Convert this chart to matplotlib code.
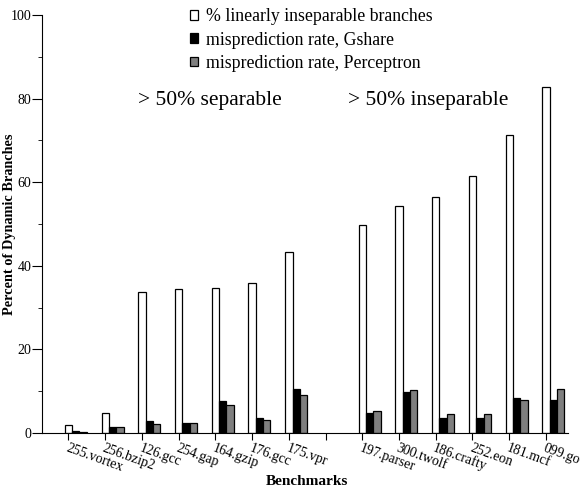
import matplotlib
matplotlib.use('Agg')
from matplotlib import pyplot as plt
import numpy as np

plt.rcParams['font.family'] = ['Liberation Serif', 'DejaVu Serif']

benchmarks = ['255.vortex', '256.bzip2', '126.gcc', '254.gap', '164.gzip', '176.gcc', '175.vpr',
              '197.parser', '300.twolf', '186.crafty', '252.eon', '181.mcf', '099.go']
inseparable = [1.9, 4.8, 33.8, 34.4, 34.6, 36.0, 43.4, 49.8, 54.4, 56.5, 61.5, 71.3, 82.8]
gshare = [0.5, 1.4, 2.9, 2.4, 7.6, 3.5, 10.5, 4.9, 9.9, 3.5, 3.7, 8.4, 8.0]
perceptron = [0.3, 1.4, 2.2, 2.3, 6.7, 3.2, 9.1, 5.2, 10.4, 4.5, 4.5, 7.8, 10.6]

# slot 7 is left empty between the two groups
pos = np.array(list(range(7)) + list(range(8, 14)))
w = 0.2

fig = plt.figure(figsize=(5.8, 4.93), dpi=100)
ax = fig.add_axes([42 / 580, 60 / 493, 526 / 580, 418 / 493])

ax.bar(pos, inseparable, w, color='white', edgecolor='black', linewidth=0.9,
       label='% linearly inseparable branches')
ax.bar(pos + w, gshare, w, color='black', edgecolor='black', linewidth=0.9,
       label='misprediction rate, Gshare')
ax.bar(pos + 2 * w, perceptron, w, color='#7f7f7f', edgecolor='black', linewidth=0.9,
       label='misprediction rate, Perceptron')

ax.set_xlim(-0.72, 13.6)
ax.set_ylim(0, 100)
ax.spines['top'].set_visible(False)
ax.spines['right'].set_visible(False)

ax.set_xticks(np.arange(14))
ax.set_xticklabels(benchmarks[:7] + [''] + benchmarks[7:], rotation=-20, ha='left', va='top',
                   rotation_mode='anchor', fontsize=10)
ax.set_yticks(np.arange(0, 101, 20))
ax.set_yticks(np.arange(10, 100, 20), minor=True)
ax.tick_params(axis='y', which='major', length=7, labelsize=10, pad=0.5)
ax.tick_params(axis='y', which='minor', length=3)
ax.tick_params(axis='x', length=5, pad=1)

ax.set_xlabel('Benchmarks', fontweight='bold', fontsize=11)
ax.set_ylabel('Percent of Dynamic Branches', fontweight='bold', fontsize=10.3)
ax.xaxis.set_label_coords(0.504, -0.1)
ax.yaxis.set_label_coords(-0.05, 0.5)

ax.text(3.86, 79.5, '> 50% separable', fontsize=15.5, ha='center', va='center')
ax.text(9.8, 79.5, '> 50% inseparable', fontsize=15.5, ha='center', va='center')

ax.legend(loc='upper left', bbox_to_anchor=(0.267, 1.033), frameon=False, fontsize=12.8,
          handlelength=0.45, handleheight=0.45, handletextpad=0.45, labelspacing=0.35,
          borderaxespad=0)

fig.savefig('out.png', dpi=100)
